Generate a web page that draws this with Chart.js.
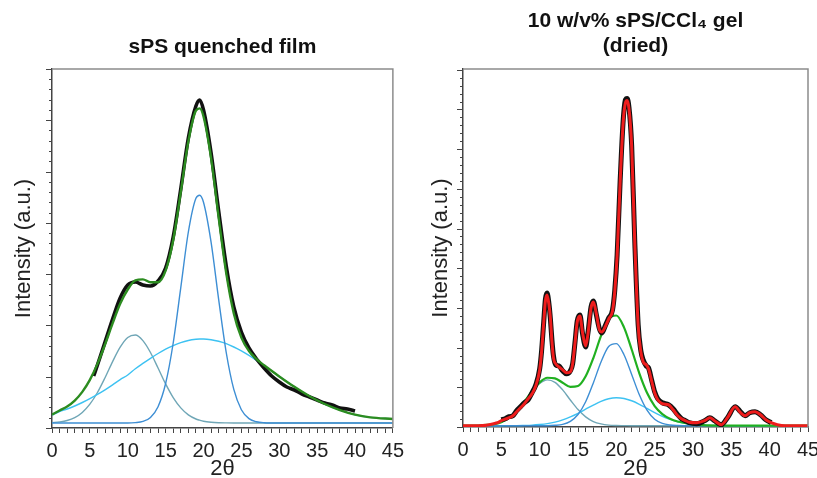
<!DOCTYPE html>
<html>
<head>
<meta charset="utf-8">
<title>sPS XRD profiles</title>
<script src="https://cdn.jsdelivr.net/npm/chart.js"></script>
<style>
  html, body { margin: 0; padding: 0; background: #fff; overflow: hidden; }
  body { width: 817px; height: 478px; position: relative; }
  .panel { position: absolute; top: 0; height: 478px; }
  #left { left: 0; width: 410px; }
  #right { left: 410px; width: 420px; }
</style>
</head>
<body>
<div class="panel" id="left"><canvas id="filmChart" width="410" height="478"></canvas></div>
<div class="panel" id="right"><canvas id="gelChart" width="420" height="478"></canvas></div>
<script>
// x axis labels (2θ, degrees)
const xTickLabels = [0, 5, 10, 15, 20, 25, 30, 35, 40, 45]

// sPS quenched film: measured profile
const filmRawX = [5.5, 6, 7, 8, 9, 10, 11, 12, 13, 14, 15, 16, 17, 18, 19, 19.5, 20, 21, 22, 23, 24, 25, 26, 27, 28, 29, 30, 31, 32, 33, 34, 35, 36, 37, 38, 39, 40]
const filmRaw = [47, 58, 81, 104, 125, 138, 141, 138, 137, 142, 155, 186, 234, 285, 317, 323, 313, 270, 212, 157, 116, 91, 75, 64, 55, 47, 41, 36, 33, 29, 26, 23, 20, 18, 15, 14, 12]

// sPS quenched film: fit and its three components
const filmX = [0, 1, 2, 3, 4, 5, 6, 7, 8, 9, 10, 11, 12, 13, 14, 15, 16, 17, 18, 19, 19.5, 20, 21, 22, 23, 24, 25, 26, 27, 28, 30, 32, 34, 36, 38, 40, 42, 45]
const filmFit = [8.4, 12.5, 16.5, 22.4, 31.1, 43.1, 59.1, 78.5, 99.6, 119.2, 133.5, 142.6, 143.6, 140.8, 140.8, 152.4, 182.8, 230.9, 281.6, 312.4, 314.6, 306.5, 264.9, 205.6, 149.9, 109.6, 85.4, 72, 63.9, 57.7, 46.6, 36.2, 26.8, 19, 12.9, 8.3, 5.6, 4]
const filmPeak1 = [0.4, 1.1, 2.5, 5.4, 10.6, 18.8, 30.5, 45.3, 61.4, 75.8, 85.5, 88, 82.4, 70.5, 55, 39.1, 25.4, 15.1, 8.1, 4, 2.8, 1.8, 0.8, 0.3, 0.1, 0, 0, 0, 0, 0, 0, 0, 0, 0, 0, 0, 0, 0]
const filmPeak2 = [0, 0, 0, 0, 0, 0, 0, 0, 0, 0, 0, 0.4, 1.6, 5.6, 16.3, 39.5, 80, 135.4, 191, 224.7, 227.8, 220.7, 180.8, 123.6, 70.5, 33.6, 13.3, 4.4, 1.2, 0.3, 0, 0, 0, 0, 0, 0, 0, 0]
const filmPeak3 = [8, 11.4, 14, 17, 20.5, 24.3, 28.6, 33.2, 38.2, 43.4, 48, 54.2, 59.6, 64.7, 69.5, 73.8, 77.4, 80.4, 82.5, 83.7, 84, 84, 83.3, 81.7, 79.3, 76, 72.1, 67.6, 62.7, 57.4, 46.6, 36.2, 26.8, 19, 12.9, 8.3, 5.6, 4]

// dried gel: measured profile and full fit
const gelX = [0, 2, 3, 4, 4.5, 5, 5.5, 6, 6.5, 7, 7.5, 8, 8.5, 9, 9.5, 10, 10.25, 10.5, 10.75, 10.96, 11.2, 11.4, 11.6, 11.8, 12.1, 12.5, 13, 13.5, 14, 14.3, 14.6, 14.9, 15.25, 15.6, 16, 16.3, 16.7, 17, 17.4, 17.8, 18.1, 18.6, 19, 19.5, 19.8, 20.1, 20.5, 20.9, 21.2, 21.4, 21.65, 22, 22.4, 22.85, 23.2, 23.5, 23.9, 24.2, 24.6, 25, 25.4, 26, 26.8, 27.4, 28, 28.5, 29, 29.5, 30.5, 31.5, 32.2, 32.8, 33.7, 34.5, 35.5, 36.2, 36.8, 37.4, 38.1, 38.8, 39.5, 40.2, 41, 42, 45]
const gelFit = [0, 0, 0.5, 2, 3, 5, 6.5, 8, 10, 14, 18, 22, 27, 32, 40, 56, 74, 100, 125, 131, 122, 108, 84, 68, 62, 59, 56, 53, 54, 62, 82, 104, 110, 93, 80, 92, 118, 124, 112, 96, 94, 100, 107, 115, 135, 170, 245, 305, 324, 326, 318, 280, 185, 100, 74, 64, 61, 57, 45, 33, 26, 22, 21, 16, 10, 7, 5, 3.5, 3, 5, 8, 5, 1, 8, 19, 13, 10, 13, 14, 11, 6, 3, 1, 0, 0]
const gelRaw = [null, null, null, null, null, 6, 7, 9, 10, 15, 19, 23, 26, 33, 41, 57, 75, 101, 127, 133, 123, 107, 86, 70, 61, 60, 55, 52, 55, 62, 83, 105, 111, 92, 79, 93, 119, 125, 111, 97, 93, 101, 108, 116, 136, 171, 246, 307, 327, 328, 319, 281, 186, 101, 75, 66, 60, 58, 46, 34, 27, 23, 21, 17, 11, 7, 5, 3, 2, 5, 8, 5, 1, 8, 19, 14, 10, 13, 14, 11, 6, 3, null, null, null]

// dried gel: amorphous part and its three components
const gelCompX = [0, 2, 4, 5, 6, 7, 8, 9, 10, 11, 12, 13, 14, 15, 16, 17, 18, 19, 20, 21, 22, 23, 24, 25, 26, 27, 28, 30, 32, 34, 36, 40, 45]
const gelSum = [0, 0.2, 1.5, 3.6, 7.8, 14.6, 24.1, 34.6, 43.5, 48.1, 47.5, 43.1, 39, 39.8, 49.5, 67.8, 90.1, 107, 110.5, 98.6, 76.4, 52.5, 33, 19.7, 11.7, 7, 4.2, 1.3, 0.3, 0.1, 0, 0, 0]
const gelPeak1 = [0, 0.2, 1.5, 3.6, 7.7, 14.5, 23.8, 34, 42.3, 46, 43.5, 35.9, 25.8, 16.2, 8.9, 4.2, 1.8, 0.6, 0.2, 0.1, 0, 0, 0, 0, 0, 0, 0, 0, 0, 0, 0, 0, 0]
const gelPeak2 = [0, 0, 0, 0, 0, 0, 0, 0, 0, 0, 0.4, 1.4, 4.4, 11.2, 24, 42.9, 63.9, 79.4, 82.3, 71.2, 51.4, 31, 15.6, 6.5, 2.3, 0.7, 0.2, 0, 0, 0, 0, 0, 0]
const gelPeak3 = [0, 0, 0, 0, 0.1, 0.1, 0.3, 0.6, 1.2, 2.1, 3.6, 5.8, 8.8, 12.4, 16.6, 20.7, 24.4, 27, 28, 27.3, 25, 21.5, 17.4, 13.2, 9.4, 6.3, 4, 1.3, 0.3, 0.1, 0, 0, 0]

Chart.defaults.font.family = '"Liberation Sans", Arial, sans-serif'
Chart.defaults.color = '#222'

const toPoints = (xs, ys) => xs.map((x, i) => ({ x, y: ys[i] }))

const curve = (label, xs, ys, color, width) => ({
    label,
    data: toPoints(xs, ys),
    borderColor: color,
    borderWidth: width,
    pointRadius: 0,
    fill: false,
    spanGaps: false,
    cubicInterpolationMode: 'monotone',
})

// grey top/right frame and the unlabeled y tick marks
const frame = {
    id: 'frame',
    afterDraw(chart) {
        const { ctx, chartArea: a, scales: { y } } = chart
        ctx.save()
        ctx.strokeStyle = '#8c8c8c'
        ctx.lineWidth = 1.5
        ctx.beginPath()
        ctx.moveTo(a.left, a.top)
        ctx.lineTo(a.right, a.top)
        ctx.lineTo(a.right, a.bottom)
        ctx.stroke()
        ctx.strokeStyle = '#444'
        ctx.lineWidth = 1
        y.ticks.forEach(t => {
            const py = Math.round(y.getPixelForValue(t.value)) + 0.5
            const len = t.major ? 6 : 3
            ctx.beginPath()
            ctx.moveTo(a.left - len, py)
            ctx.lineTo(a.left, py)
            ctx.stroke()
        })
        ctx.restore()
    },
}

function panelOptions(cfg) {
    return {
        responsive: false,
        animation: false,
        devicePixelRatio: 1,
        layout: { padding: { left: 0, right: cfg.padRight, top: 0, bottom: 0 } },
        plugins: {
            legend: { display: false },
            tooltip: { enabled: false },
            title: {
                display: true,
                text: cfg.title,
                fullSize: false,
                color: '#111',
                font: { size: 21, weight: 'bold', lineHeight: 1.2 },
                padding: cfg.titlePad,
            },
        },
        scales: {
            x: {
                type: 'linear',
                min: 0,
                max: 45,
                ticks: {
                    stepSize: 1,
                    autoSkip: false,
                    maxRotation: 0,
                    padding: 6,
                    color: '#222',
                    font: { size: 20 },
                    callback: v => (xTickLabels.includes(v) ? String(v) : ''),
                },
                grid: { drawOnChartArea: false, tickLength: 5, tickColor: '#444' },
                border: { color: '#444', width: 1.5 },
                title: { display: true, text: '2θ', color: '#222', font: { size: 22, lineHeight: 0.8 }, padding: 0 },
                afterFit: s => { s.height = cfg.xHeight },
            },
            y: {
                type: 'linear',
                min: cfg.yMin,
                max: cfg.yMax,
                ticks: { display: false },
                grid: { display: false },
                border: { display: true, color: '#444', width: 1.5 },
                title: {
                    display: true,
                    text: 'Intensity (a.u.)',
                    color: '#222',
                    font: { size: 22, lineHeight: 1.2 },
                    padding: { top: cfg.yTitlePad, bottom: 0 },
                },
                afterBuildTicks: axis => {
                    const ticks = []
                    for (let k = 0; cfg.yMin + k * cfg.yStep <= cfg.yMax + 0.5; k++) {
                        ticks.push({ value: cfg.yMin + k * cfg.yStep, major: k % 5 === 0 })
                    }
                    axis.ticks = ticks
                },
                afterFit: s => { s.width = cfg.yWidth },
            },
        },
    }
}

// Left panel: quenched film
new Chart(document.getElementById('filmChart').getContext('2d'), {
    type: 'line',
    data: {
        datasets: [
            curve('Fit', filmX, filmFit, '#2c8c20', 2.4),
            curve('Measured', filmRawX, filmRaw, '#111', 3.6),
            curve('Peak 2', filmX, filmPeak2, '#3d8ed4', 1.4),
            curve('Peak 3', filmX, filmPeak3, '#3dc2f2', 1.4),
            curve('Peak 1', filmX, filmPeak1, '#6fa6b6', 1.4),
        ],
    },
    options: panelOptions({
        title: 'sPS quenched film',
        titlePad: { top: 34.4, bottom: 9.4 },
        yMin: -5, yMax: 354, yStep: 10.26,
        yWidth: 52, yTitlePad: 10.8, xHeight: 50, padRight: 15,
    }),
    plugins: [frame],
})

// Right panel: dried gel
new Chart(document.getElementById('gelChart').getContext('2d'), {
    type: 'line',
    data: {
        datasets: [
            curve('Fit', gelX, gelFit, '#ee1c1c', 3),
            curve('Measured', gelX, gelRaw, '#111', 5),
            curve('Amorphous', gelCompX, gelSum, '#20b020', 2.2),
            curve('Peak 2', gelCompX, gelPeak2, '#3d8ed4', 1.4),
            curve('Peak 3', gelCompX, gelPeak3, '#3dc2f2', 1.4),
            curve('Peak 1', gelCompX, gelPeak1, '#6fa6b6', 1.4),
        ],
    },
    options: panelOptions({
        title: ['10 w/v% sPS/CCl₄ gel', '(dried)'],
        titlePad: { top: 8.4, bottom: 10.2 },
        yMin: -1.3, yMax: 357.7, yStep: 7.96,
        yWidth: 53, yTitlePad: 17.8, xHeight: 51, padRight: 22,
    }),
    plugins: [frame],
})
</script>
</body>
</html>
